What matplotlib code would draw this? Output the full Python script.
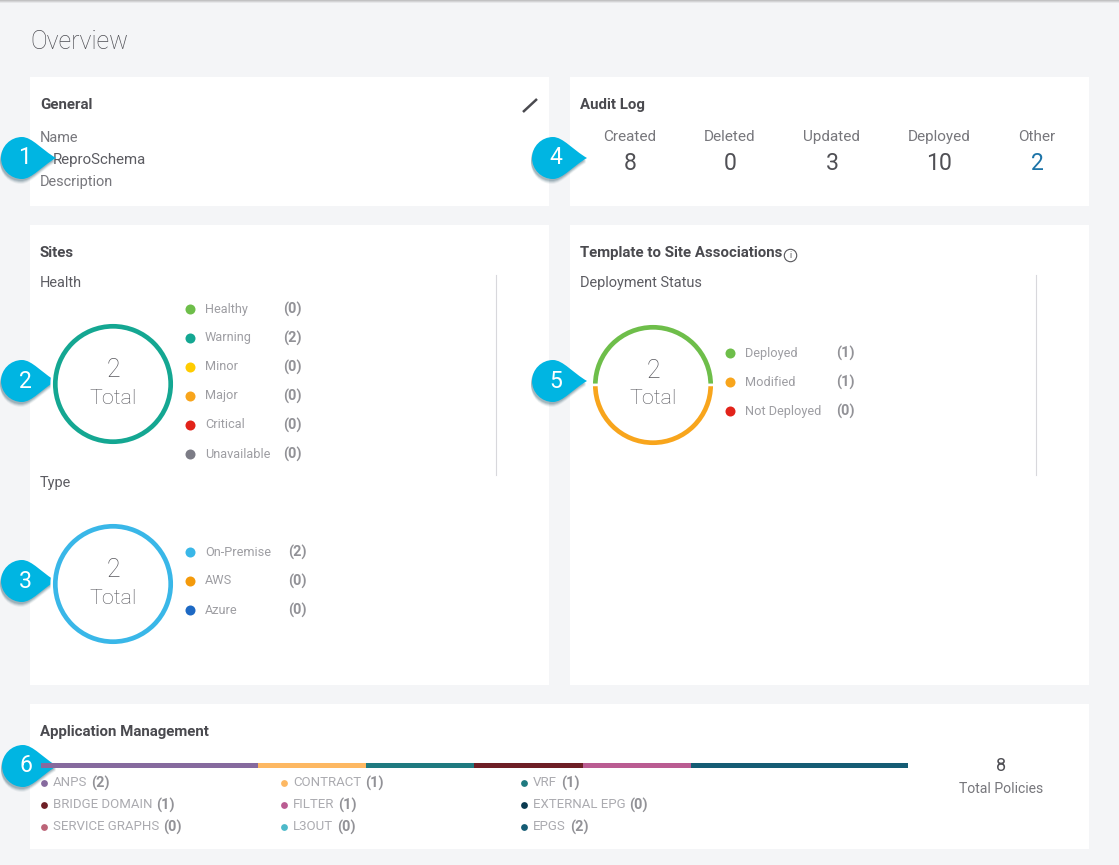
import numpy as np
import matplotlib
matplotlib.use("Agg")
import matplotlib.pyplot as plt
from matplotlib.patches import Rectangle, PathPatch
from matplotlib.path import Path

plt.rcParams['font.family'] = ['Roboto', 'DejaVu Sans']

W, H = 1119, 865

health_labels = ['Healthy', 'Warning', 'Minor', 'Major', 'Critical', 'Unavailable']
health_values = [0, 2, 0, 0, 0, 0]
health_colors = ['#6EBE4A', '#14A792', '#FFCC00', '#F8A51C', '#E2231A', '#7C7C86']

type_labels = ['On-Premise', 'AWS', 'Azure']
type_values = [2, 0, 0]
type_colors = ['#39B7E8', '#F49A0B', '#1D69C4']

deploy_labels = ['Deployed', 'Modified', 'Not Deployed']
deploy_values = [1, 1, 0]
deploy_colors = ['#6EBE4A', '#F8A51C', '#E2231A']

audit_labels = ['Created', 'Deleted', 'Updated', 'Deployed', 'Other']
audit_values = [8, 0, 3, 10, 2]

policy_labels = ['ANPS', 'CONTRACT', 'VRF', 'BRIDGE DOMAIN', 'FILTER', 'EXTERNAL EPG',
                 'SERVICE GRAPHS', 'L3OUT', 'EPGS']
policy_values = [2, 1, 1, 1, 1, 0, 0, 0, 2]
policy_colors = ['#866A9E', '#FDB863', '#1F7A80', '#6E1F26', '#BA5C92', '#0B3A50',
                 '#BC6478', '#4DB9C9', '#155C74']

BLUE = '#00B5E2'
DARK = '#4A4A4F'
GREY = '#77777C'
LIGHT = '#9E9EA3'

fig = plt.figure(figsize=(W / 100, H / 100), dpi=100, facecolor='#F4F5F7')
ax = fig.add_axes([0, 0, 1, 1])
ax.set_xlim(0, W)
ax.set_ylim(H, 0)
ax.axis('off')


def px_axes(x0, y0, x1, y1):
    a = fig.add_axes([x0 / W, 1 - y1 / H, (x1 - x0) / W, (y1 - y0) / H], zorder=2)
    a.axis('off')
    return a


def txt(x, y, s, size=14.5, color=GREY, weight='normal', ha='left', **kw):
    # size is in pixels here
    return ax.text(x, y + 1, s, fontsize=size * 0.72, color=color, fontweight=weight,
                   ha=ha, va='center', **kw)


def donut(cx, cy, values, colors, r=60):
    box = r + 4
    a = px_axes(cx - box, cy - box, cx + box, cy + box)
    shown = [v for v in values if v > 0]
    cols = [c for v, c in zip(values, colors) if v > 0]
    # white edge cuts the small gaps, so the ring is drawn a bit fatter
    a.pie(shown, colors=cols, radius=(r + 1.3) / r, startangle=0, counterclock=True,
          wedgeprops=dict(width=7.2 / r, edgecolor='white', linewidth=1.8))
    a.set_xlim(-box / r, box / r)
    a.set_ylim(-box / r, box / r)
    txt(cx, cy - 15, str(sum(values)), size=25, color='#56565C', ha='center', weight='light')
    txt(cx, cy + 13, 'Total', size=21.5, color='#56565C', ha='center', weight='light')


def legend(dot_x, label_x, count_x, y0, labels, values, colors):
    for i, (l, v, c) in enumerate(zip(labels, values, colors)):
        y = y0 + i * 29
        ax.scatter([dot_x], [y + 1], s=52, color=c, linewidths=0, zorder=3)
        txt(label_x, y, l, size=12.7, color=LIGHT)
        txt(count_x, y, '(%d)' % v, size=14.5, color='#929297', weight='bold')


def callout(cx, cy, num, r=21, tip=34):
    verts = [(cx + tip, cy),
             (cx + 20, cy - 8), (cx + 10, cy - r), (cx, cy - r),
             (cx - r * 0.55, cy - r), (cx - r, cy - r * 0.55), (cx - r, cy),
             (cx - r, cy + r * 0.55), (cx - r * 0.55, cy + r), (cx, cy + r),
             (cx + 10, cy + r), (cx + 20, cy + 8), (cx + tip, cy)]
    codes = [Path.MOVETO] + [Path.CURVE4] * 12
    for off, alpha in [(5, 0.06), (4, 0.10), (3, 0.14), (2, 0.16)]:
        shadow = [(x - 1, y + off) for x, y in verts]
        ax.add_patch(PathPatch(Path(shadow, codes), fc='#1A4A5A', ec='none', alpha=alpha, zorder=8))
    ax.add_patch(PathPatch(Path(verts, codes), fc=BLUE, ec='none', zorder=9))
    txt(cx + 3, cy - 1, str(num), size=23, color='white', ha='center', zorder=10)


# top shadow and panels
for i, a_ in enumerate([0.55, 0.35, 0.15]):
    ax.add_patch(Rectangle((0, i), W, 1, fc='#999999', ec='none', alpha=a_))
for x, y, w, h in [(30, 77, 519, 129), (570, 77, 519, 129), (30, 225, 519, 460),
                   (570, 225, 519, 460), (30, 704, 1059, 145)]:
    ax.add_patch(Rectangle((x, y), w, h, fc='white', ec='none', zorder=1))

txt(30, 41, 'Overview', size=25, color='#4C4C52', weight='light')

# General
txt(40, 104, 'General', size=15, color=DARK, weight='bold')
ax.plot([523, 537], [112, 99], color=DARK, lw=1.8, solid_capstyle='butt', zorder=3)
txt(40, 137, 'Name')
txt(53, 159, 'ReproSchema', size=15, color='#5C5C62')
txt(40, 181, 'Description')

# Audit log
txt(580, 104, 'Audit Log', size=15, color=DARK, weight='bold')
audit_x = [630, 730, 832, 939, 1037]
for x, l, v in zip(audit_x, audit_labels, audit_values):
    txt(x, 136, l, size=15.2, ha='center')
    txt(x, 163, str(v), size=23, color='#1D74A8' if l == 'Other' else '#505055', ha='center')

# Sites
txt(40, 252, 'Sites', size=15, color=DARK, weight='bold')
txt(40, 282, 'Health', color='#5C5C62')
donut(113, 384, health_values, health_colors)
legend(190, 205, 283, 308, health_labels, health_values, health_colors)
ax.plot([496, 496], [275, 475], color='#D8D8DC', lw=0.8, zorder=3)
txt(40, 482, 'Type', color='#5C5C62')
donut(113, 584, type_values, type_colors)
legend(190, 205, 288, 551, type_labels, type_values, type_colors)

# Template to site
txt(580, 252, 'Template to Site Associations', size=15, color=DARK, weight='bold')
ax.scatter([790], [255], s=80, facecolor='white', edgecolor='#55555A', linewidths=0.8, zorder=3)
txt(790, 254, 'i', size=9, color='#55555A', ha='center', zorder=4)
txt(580, 282, 'Deployment Status', color='#5C5C62')
donut(653, 385, deploy_values, deploy_colors)
legend(730, 745, 836, 352, deploy_labels, deploy_values, deploy_colors)
ax.plot([1036, 1036], [275, 475], color='#D8D8DC', lw=0.8, zorder=3)

# Application management
txt(40, 731, 'Application Management', size=15, color=DARK, weight='bold')
bar_ax = px_axes(41, 763, 908, 768)
bar_ax.set_xlim(0, sum(policy_values))
bar_ax.set_ylim(0, 1)
left = 0
for v, c in zip(policy_values, policy_colors):
    bar_ax.barh(0.5, v, left=left, height=1, color=c, linewidth=0)
    left += v

col_x = [41, 281, 521]
for i, (l, v, c) in enumerate(zip(policy_labels, policy_values, policy_colors)):
    x = col_x[i % 3]
    y = 782 + (i // 3) * 22
    ax.scatter([x + 3], [y + 1], s=24, color=c, linewidths=0, zorder=3)
    t1 = txt(x + 12, y, l, size=13.2, color='#ABABB0')
    fig.canvas.draw()
    bb = t1.get_window_extent()
    txt(bb.x1 + 4, y, '(%d)' % v, size=14.5, color='#929297', weight='bold')

txt(1001, 765, str(sum(policy_values)), size=18, color='#505055', ha='center')
txt(1001, 788, 'Total Policies', size=14, ha='center')

# numbered callouts
callout(22, 158, 1)
callout(553, 158, 4)
callout(22, 381, 2)
callout(22, 581, 3)
callout(553, 381, 5)
callout(23, 766, 6)

fig.savefig('out.png', dpi=100, facecolor=fig.get_facecolor())
